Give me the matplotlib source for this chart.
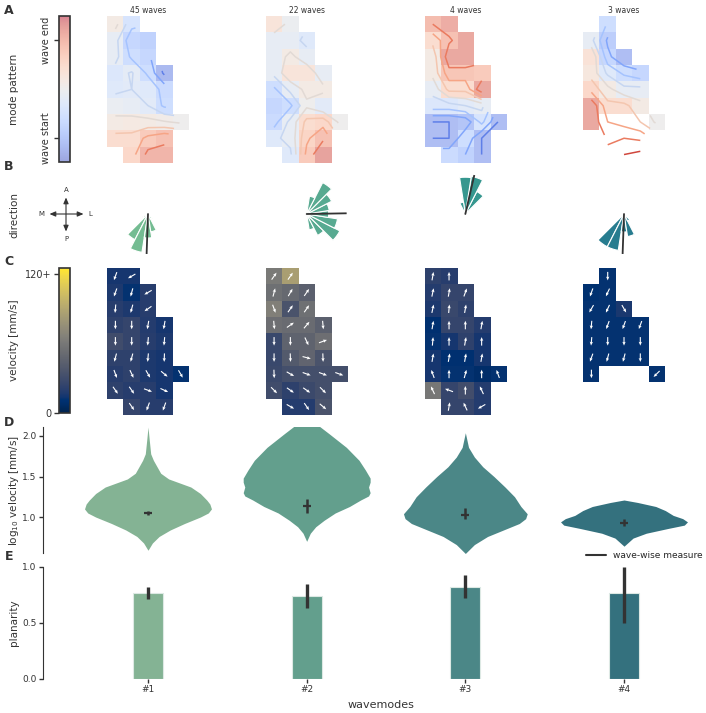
import matplotlib
matplotlib.use("Agg")
import matplotlib.pyplot as plt
import numpy as np
import seaborn as sns
from matplotlib.lines import Line2D

W, H = 706, 713
nan = np.nan

MODES = ["#1", "#2", "#3", "#4"]
N_WAVES = [45, 22, 4, 3]

# colours of the four wavemodes
ROSE_COLORS = ["#74bc92", "#58aa91", "#36978f", "#277c8f"]
BODY_COLORS = ["#84b394", "#639f8d", "#4b8787", "#34717e"]
DARK = "#333333"

# electrode layouts (9 rows top->bottom, 5 columns)
LAYOUT_FULL = ["XX...", "XXX..", "XXX..", "XXXX.", "XXXX.", "XXXX.", "XXXXX", "XXXX.", ".XXX."]
LAYOUT_SMALL = [".X...", "XX...", "XXX..", "XXXX.", "XXXX.", "XXXX.", "X...X", ".....", "....."]
LAYOUTS = [LAYOUT_FULL, LAYOUT_FULL, LAYOUT_FULL, LAYOUT_SMALL]

# A: mode pattern (0 = wave start, 1 = wave end)
PATTERN_1 = [
    [0.55, 0.35, nan, nan, nan],
    [0.45, 0.25, 0.22, nan, nan],
    [0.45, 0.30, 0.25, nan, nan],
    [0.38, 0.43, 0.30, 0.10, nan],
    [0.40, 0.42, 0.40, 0.28, nan],
    [0.47, 0.45, 0.42, 0.30, nan],
    [0.55, 0.56, 0.55, 0.53, 0.50],
    [0.65, 0.65, 0.75, 0.80, nan],
    [nan, 0.68, 0.85, 0.85, nan],
]
PATTERN_2 = [
    [0.60, 0.48, nan, nan, nan],
    [0.45, 0.45, 0.40, nan, nan],
    [0.45, 0.55, 0.45, nan, nan],
    [0.45, 0.60, 0.60, 0.45, nan],
    [0.30, 0.45, 0.55, 0.55, nan],
    [0.25, 0.30, 0.50, 0.42, nan],
    [0.28, 0.45, 0.65, 0.68, 0.50],
    [0.40, 0.45, 0.70, 0.80, nan],
    [nan, 0.40, 0.75, 0.92, nan],
]
PATTERN_3 = [
    [0.82, 0.88, nan, nan, nan],
    [0.65, 0.80, 0.90, nan, nan],
    [0.55, 0.90, 0.90, nan, nan],
    [0.55, 0.78, 0.78, 0.75, nan],
    [0.45, 0.65, 0.65, 0.90, nan],
    [0.38, 0.38, 0.42, 0.45, nan],
    [0.12, 0.12, 0.15, 0.35, 0.12],
    [0.12, 0.12, 0.30, 0.12, nan],
    [nan, 0.28, 0.22, 0.12, nan],
]
PATTERN_4 = [
    [nan, 0.30, nan, nan, nan],
    [0.45, 0.20, nan, nan, nan],
    [0.62, 0.25, 0.12, nan, nan],
    [0.58, 0.40, 0.30, 0.25, nan],
    [0.68, 0.55, 0.45, 0.45, nan],
    [0.90, 0.65, 0.65, 0.55, nan],
    [0.90, 0.72, 0.68, 0.62, 0.50],
    [nan, 0.80, 0.82, 0.80, nan],
    [nan, 0.85, 0.92, 0.95, nan],
]
PATTERNS = [PATTERN_1, PATTERN_2, PATTERN_3, PATTERN_4]

# B: direction histograms (18 degree bins, relative length)
ROSE_1 = {216: 0.15, 234: 0.72, 252: 0.97, 270: 0.6, 288: 0.45, 306: 0.15}
ROSE_2 = {288: 0.4, 306: 0.6, 324: 0.93, 342: 0.78, 0: 0.55, 18: 0.57, 36: 0.7, 54: 0.88, 72: 0.45}
ROSE_3 = {54: 0.63, 72: 0.95, 90: 0.92, 108: 0.3}
ROSE_4 = {234: 0.92, 252: 0.92, 270: 0.45, 288: 0.57, 306: 0.2}
ROSES = [ROSE_1, ROSE_2, ROSE_3, ROSE_4]
MEAN_DIRECTION = [268, 1, 77, 268]

# C: velocity [mm/s] per electrode and propagation angle [deg]
VEL_1 = [
    [15, 15, nan, nan, nan],
    [17, 12, 20, nan, nan],
    [20, 17, 20, nan, nan],
    [22, 25, 19, 15, nan],
    [30, 25, 20, 17, nan],
    [22, 22, 17, 15, nan],
    [20, 22, 17, 15, 12],
    [22, 20, 20, 15, nan],
    [nan, 25, 20, 20, nan],
]
VEL_2 = [
    [62, 85, nan, nan, nan],
    [55, 50, 44, nan, nan],
    [65, 35, 55, nan, nan],
    [54, 52, 52, 44, nan],
    [27, 46, 46, 54, nan],
    [27, 40, 47, 35, nan],
    [28, 32, 32, 32, 32],
    [30, 22, 28, 32, nan],
    [nan, 19, 19, 35, nan],
]
VEL_3 = [
    [22, 20, nan, nan, nan],
    [19, 25, 25, nan, nan],
    [17, 27, 22, nan, nan],
    [10, 25, 25, 19, nan],
    [12, 15, 22, 15, nan],
    [15, 10, 10, 15, nan],
    [15, 12, 12, 8, 12],
    [60, 25, 31, 19, nan],
    [nan, 25, 25, 19, nan],
]
VEL_4 = [
    [nan, 12, nan, nan, nan],
    [11, 12, nan, nan, nan],
    [12, 12, 16, nan, nan],
    [12, 12, 12, 12, nan],
    [12, 12, 12, 12, nan],
    [12, 12, 12, 12, nan],
    [12, nan, nan, nan, 12],
    [nan, nan, nan, nan, nan],
    [nan, nan, nan, nan, nan],
]
VELOCITIES = [VEL_1, VEL_2, VEL_3, VEL_4]

ANG_1 = [
    [250, 210, nan, nan, nan],
    [250, 255, 210, nan, nan],
    [265, 255, 215, nan, nan],
    [270, 270, 260, 260, nan],
    [270, 270, 265, 265, nan],
    [255, 255, 265, 268, nan],
    [290, 295, 300, 320, 300],
    [305, 305, 340, 335, nan],
    [nan, 305, 250, 250, nan],
]
ANG_2 = [
    [55, 55, nan, nan, nan],
    [75, 60, 55, nan, nan],
    [290, 55, 55, nan, nan],
    [275, 35, 50, 275, nan],
    [270, 270, 295, 20, nan],
    [270, 272, 345, 272, nan],
    [272, 330, 340, 340, 340],
    [315, 325, 325, 315, nan],
    [nan, 330, 305, 320, nan],
]
ANG_3 = [
    [80, 90, nan, nan, nan],
    [78, 80, 70, nan, nan],
    [78, 85, 80, nan, nan],
    [80, 90, 90, 80, nan],
    [85, 90, 80, 90, nan],
    [80, 80, 80, 80, nan],
    [110, 90, 75, 90, 110],
    [115, 160, 90, 115, nan],
    [nan, 80, 115, 210, nan],
]
ANG_4 = [
    [nan, 270, nan, nan, nan],
    [250, 245, nan, nan, nan],
    [240, 245, 300, nan, nan],
    [265, 250, 250, 250, nan],
    [265, 270, 270, 270, nan],
    [250, 255, 255, 270, nan],
    [270, nan, nan, nan, 225],
    [nan, nan, nan, nan, nan],
    [nan, nan, nan, nan, nan],
]
ANGLES = [ANG_1, ANG_2, ANG_3, ANG_4]

# D: violin outlines (log10 velocity, half width)
VIOLIN_Y = [
    [0.59, 0.68, 0.76, 0.84, 0.92, 1.00, 1.05, 1.10, 1.16, 1.21, 1.29, 1.37, 1.42, 1.47, 1.54, 1.62, 1.70, 1.78, 1.95, 2.11],
    [0.70, 0.80, 0.88, 0.96, 1.05, 1.13, 1.21, 1.26, 1.30, 1.37, 1.43, 1.48, 1.58, 1.70, 1.86, 2.03, 2.15, 2.25],
    [0.55, 0.66, 0.76, 0.84, 0.92, 0.98, 1.04, 1.13, 1.25, 1.37, 1.50, 1.62, 1.74, 1.86, 2.04],
    [0.64, 0.74, 0.80, 0.86, 0.90, 0.94, 0.98, 1.02, 1.08, 1.13, 1.18, 1.21],
]
VIOLIN_W = [
    [0.0, 0.028, 0.07, 0.14, 0.23, 0.33, 0.38, 0.40, 0.39, 0.37, 0.33, 0.27, 0.20, 0.13, 0.08, 0.057, 0.034, 0.017, 0.008, 0.0],
    [0.0, 0.023, 0.057, 0.11, 0.18, 0.27, 0.34, 0.39, 0.40, 0.39, 0.40, 0.40, 0.37, 0.33, 0.25, 0.14, 0.06, 0.0],
    [0.0, 0.057, 0.14, 0.24, 0.34, 0.38, 0.39, 0.35, 0.31, 0.25, 0.18, 0.11, 0.057, 0.02, 0.0],
    [0.0, 0.057, 0.14, 0.28, 0.38, 0.40, 0.37, 0.31, 0.26, 0.20, 0.085, 0.0],
]
VEL_MEAN = [1.05, 1.13, 1.02, 0.93]
VEL_LO = [1.03, 1.05, 0.97, 0.89]
VEL_HI = [1.08, 1.22, 1.11, 0.97]

# E: planarity
PLANARITY = [0.77, 0.745, 0.82, 0.77]
PLAN_LO = [0.715, 0.63, 0.72, 0.50]
PLAN_HI = [0.82, 0.85, 0.93, 1.00]


sns.set_style("ticks")
plt.rcParams["font.family"] = ["DejaVu Sans"]
plt.rcParams["axes.edgecolor"] = DARK
plt.rcParams["xtick.color"] = DARK
plt.rcParams["ytick.color"] = DARK

fig = plt.figure(figsize=(W / 100, H / 100), dpi=100)

CAT0, STEP = 148.0, 158.67
CELL = 16.3


def px(left, top, width, height):
    return [left / W, 1 - (top + height) / H, width / W, height / H]


def cat_px(i):
    return CAT0 + i * STEP


def layout_mask(layout):
    return np.array([[c != "X" for c in row] for row in layout])


def label(text, x, y, **kw):
    fig.text(x / W, 1 - y / H, text, **kw)


XX, YY = np.meshgrid(np.arange(5) + 0.5, np.arange(9) + 0.5)
TICKS = dict(labelsize=6.5, length=3, width=1, pad=1.5)

# ---------- A: mode patterns ----------
for i in range(4):
    ax = fig.add_axes(px(cat_px(i) - 2.5 * CELL, 16, 5 * CELL, 9 * CELL))
    z = np.array(PATTERNS[i], dtype=float)
    shown = np.ma.array(z, mask=layout_mask(LAYOUTS[i]) | np.isnan(z))
    im_a = ax.imshow(shown, cmap="coolwarm", vmin=0, vmax=1, alpha=0.5,
                     extent=(0, 5, 9, 0), interpolation="nearest", aspect="auto")
    ax.contour(XX, YY, np.ma.masked_invalid(z), levels=np.arange(0.12, 0.95, 0.1),
               cmap="coolwarm", vmin=0, vmax=1, linewidths=1.1)
    ax.set_xlim(0, 5)
    ax.set_ylim(9, 0)
    ax.set_axis_off()
    ax.set_title(f"{N_WAVES[i]} waves", fontsize=5.5, pad=2, color=DARK)
    if i == 0:
        cax = fig.add_axes(px(59, 16, 11, 146))
        cb = fig.colorbar(im_a, cax=cax)
        cb.set_ticks([0.165, 0.835], labels=["wave start", "wave end"])
        cax.yaxis.set_ticks_position("left")
        cax.tick_params(labelsize=7, length=3.5, width=1, pad=2, labelrotation=90)
        for t in cax.get_yticklabels():
            t.set_va("center")
        cb.outline.set_linewidth(1.2)

# ---------- B: directions ----------
for i in range(4):
    ax = fig.add_axes(px(cat_px(i) - 40, 174, 80, 80), projection="polar")
    ang = np.deg2rad(list(ROSES[i].keys()))
    ax.bar(ang, list(ROSES[i].values()), width=np.deg2rad(18), color=ROSE_COLORS[i],
           edgecolor="white", linewidth=0.8)
    th = np.deg2rad(MEAN_DIRECTION[i])
    ax.plot([th, th], [0, 1.0], color=DARK, lw=1.3)
    ax.set_ylim(0, 1)
    ax.set_axis_off()

cax_dir = fig.add_axes(px(36, 184, 60, 60))
cax_dir.set_xlim(-30, 30)
cax_dir.set_ylim(-30, 30)
cax_dir.set_axis_off()
arrow = dict(arrowstyle="<|-|>,head_length=0.35,head_width=0.15", color=DARK, lw=0.8,
             shrinkA=0, shrinkB=0)
cax_dir.annotate("", xy=(0, 16.5), xytext=(0, -17.5), arrowprops=arrow)
cax_dir.annotate("", xy=(17.5, 0), xytext=(-16.5, 0), arrowprops=arrow)
for t, (x, y) in zip("APML", [(0, 24), (0, -25), (-24.5, 0), (24, 0)]):
    cax_dir.text(x, y, t, fontsize=5, ha="center", va="center", color=DARK)

# ---------- C: velocities ----------
for i in range(4):
    ax = fig.add_axes(px(cat_px(i) - 2.5 * CELL, 268, 5 * CELL, 9 * CELL))
    v = np.array(VELOCITIES[i], dtype=float)
    im_c = ax.imshow(np.ma.masked_invalid(v), cmap="cividis", vmin=0, vmax=125,
                     extent=(0, 5, 9, 0), interpolation="nearest", aspect="auto")
    a = np.deg2rad(np.array(ANGLES[i], dtype=float))
    ok = ~np.isnan(a)
    ax.quiver(XX[ok], YY[ok], np.cos(a[ok]), np.sin(a[ok]), color="white", pivot="middle",
              angles="uv", scale_units="inches", scale=1 / 0.085, units="inches",
              width=0.011, headwidth=3, headlength=3.5, headaxislength=3)
    ax.set_xlim(0, 5)
    ax.set_ylim(9, 0)
    ax.set_axis_off()
    if i == 0:
        cax = fig.add_axes(px(59, 268, 11, 145))
        cb = fig.colorbar(im_c, cax=cax)
        cb.set_ticks([0, 120], labels=["0", "120+"])
        cax.yaxis.set_ticks_position("left")
        cax.tick_params(labelsize=7, length=3.5, width=1, pad=2)
        cb.outline.set_linewidth(1.2)

# ---------- D: violins ----------
XLIM = (-(CAT0 - 43) / STEP, (700 - CAT0) / STEP)
axd = fig.add_axes(px(43, 427, 657, 126))
for i in range(4):
    y = np.array(VIOLIN_Y[i])
    w = np.array(VIOLIN_W[i])
    axd.fill_betweenx(y, i - w, i + w, color=BODY_COLORS[i], lw=0)
    axd.errorbar(i, VEL_MEAN[i], yerr=[[VEL_MEAN[i] - VEL_LO[i]], [VEL_HI[i] - VEL_MEAN[i]]],
                 fmt="_", ms=6, mew=1.6, color=DARK, lw=1.8, capsize=0)
axd.set_xlim(*XLIM)
axd.set_ylim(0.556, 2.111)
axd.set_yticks([1.0, 1.5, 2.0])
axd.set_xticks([])
axd.tick_params(**TICKS)
for s in ["top", "right", "bottom"]:
    axd.spines[s].set_visible(False)

# ---------- E: planarity ----------
axe = fig.add_axes(px(43, 567, 657, 112))
for i in range(4):
    axe.bar(i, PLANARITY[i], width=0.19, color=BODY_COLORS[i], edgecolor="#dde9e4", lw=0.8)
    axe.plot([i, i], [PLAN_LO[i], PLAN_HI[i]], color=DARK, lw=2.4, solid_capstyle="butt")
axe.set_xlim(*XLIM)
axe.set_ylim(0, 1.0)
axe.set_yticks([0.0, 0.5, 1.0])
axe.set_xticks(range(4), MODES)
axe.tick_params(**TICKS)
for s in ["top", "right", "bottom"]:
    axe.spines[s].set_visible(False)
axe.set_xlabel("wavemodes", fontsize=8, color=DARK)
axe.xaxis.set_label_coords((381 - 43) / 657, -0.19)

fig.legend(handles=[Line2D([], [], color=DARK, lw=1.5)], labels=["wave-wise measure"],
           loc="center right", bbox_to_anchor=(703 / W, 1 - 556 / H), frameon=False,
           fontsize=6.5, handlelength=2.2, borderaxespad=0, borderpad=0)

# ---------- row labels & panel letters ----------
for text, y in [("mode pattern", 89), ("direction", 215), ("velocity [mm/s]", 340),
                ("log$_{10}$ velocity [mm/s]", 490), ("planarity", 623)]:
    label(text, 14, y, rotation=90, fontsize=7.5, ha="center", va="center", color=DARK)
for text, y in [("A", 10), ("B", 167), ("C", 262), ("D", 423), ("E", 557)]:
    label(text, 9, y, fontsize=9, fontweight="bold", ha="center", va="center", color=DARK)

fig.savefig("out.png", dpi=100)
